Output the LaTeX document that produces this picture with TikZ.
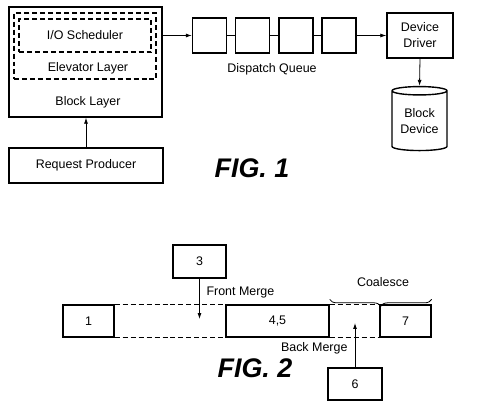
\documentclass[tikz,border=0pt]{standalone}
\usepackage{fontspec}
\setmainfont{Liberation Sans}
\usetikzlibrary{arrows.meta,shapes.geometric,decorations.pathreplacing}
\tikzset{
   box/.style={draw, line width=1.4pt, inner sep=0pt, align=center},
   dashbox/.style={draw, line width=1.1pt, dash pattern=on 5pt off 3pt, inner sep=0pt},
   arr/.style={-{Latex[length=6pt,width=4pt]}, line width=0.8pt},
   figlabel/.style={font=\fontsize{27}{30}\selectfont\bfseries\itshape}
}
\begin{document}
\begin{tikzpicture}[x=1bp, y=-1bp, font=\fontsize{12.5}{16}\selectfont]
   \useasboundingbox (0,0) rectangle (480,408);
   \node[box, minimum width=153bp, minimum height=110bp] (block) at (85.5,62) {};
   \node[dashbox, minimum width=142bp, minimum height=66bp] (elev) at (85,46) {};
   \node[dashbox, minimum width=132bp, minimum height=33bp] (sched) at (85,35.5) {I/O Scheduler};
   \node (elevtxt) at (88,68) {Elevator Layer};
   \node (blocktxt) at (88,102) {Block Layer};
   \node[box, minimum width=154bp, minimum height=35bp] (req) at (86,165.5) {Request Producer};
   \draw[arr] (req.north) -- (req.north |- block.south);
   \foreach \i/\x in {1/209.5, 2/252.5, 3/296, 4/339}
      \node[box, minimum width=34bp, minimum height=35bp] (q\i) at (\x,35.5) {};
   \draw[line width=0.8pt] (q1.east) -- (q2.west);
   \draw[line width=0.8pt] (q2.east) -- (q3.west);
   \draw[line width=0.8pt] (q3.east) -- (q4.west);
   \node (queuetxt) at (272,69) {Dispatch Queue};
   \draw[arr] (q1.west -| block.east) -- (q1.west);
   \node[box, minimum width=66bp, minimum height=45bp] (drv) at (420,35.5) {Device\\Driver};
   \draw[arr] (q4.east) -- (drv.west);
   \node[box, cylinder, shape border rotate=90, aspect=0.22, minimum width=55bp, minimum height=64bp] (dev) at (419.5,121) {Block\\Device};
   \draw[arr] (drv.south) -- (dev.north);
   \node[figlabel] (fig1) at (252,168) {FIG. 1};

   \node[box, minimum width=51bp, minimum height=32bp] (b1) at (88.5,321) {1};
   \node[box, minimum width=103bp, minimum height=32bp] (b45) at (277.5,321) {4,5};
   \node[box, minimum width=51bp, minimum height=32bp] (b7) at (405.5,321) {7};
   \draw[dashbox] (b1.north east) -- (b45.north west);
   \draw[dashbox] (b1.south east) -- (b45.south west);
   \draw[dashbox] (b45.north east) -- (b7.north west);
   \draw[dashbox] (b45.south east) -- (b7.south west);
   \node[box, minimum width=53bp, minimum height=33bp] (b3) at (199.5,261.5) {3};
   \coordinate (front) at (199.5,319);
   \draw[arr] (b3.south) -- (front);
   \node[anchor=west] (fronttxt) at (203,292) {Front Merge};
   \node[box, minimum width=54bp, minimum height=32bp] (b6) at (355,384) {6};
   \coordinate (back) at (355,323);
   \draw[arr] (b6.north) -- (back);
   \node[anchor=east] (backtxt) at (351,348) {Back Merge};
   \draw[decorate, decoration={brace, mirror, amplitude=7bp}, line width=0.8pt]
      ([yshift=5bp]b45.north east) -- ([yshift=5bp]b7.north east);
   \node (coaltxt) at (383,282) {Coalesce};
   \node[figlabel] (fig2) at (255,368) {FIG. 2};
\end{tikzpicture}
\end{document}
